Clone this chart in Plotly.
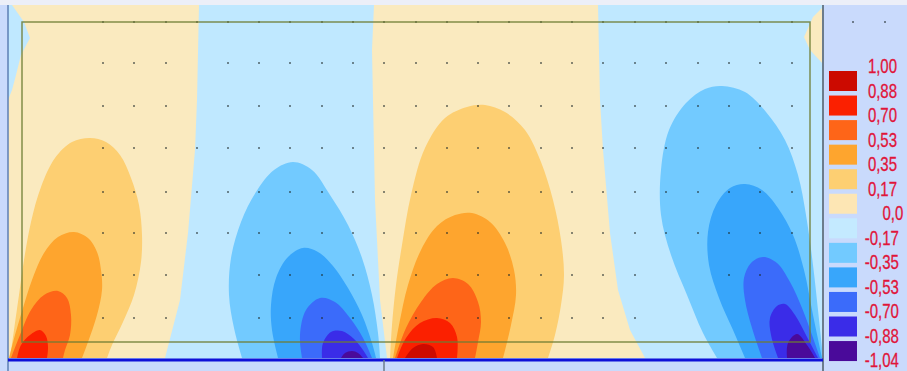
import plotly.graph_objects as go

# Scale legend
level_labels = ["1,00", "0,88", "0,70", "0,53", "0,35", "0,17", "0,0", "-0,17", "-0,35", "-0,53", "-0,70", "-0,88", "-1,04"]
band_colors = ["#cc0a00", "#fb2000", "#fe6518", "#fea52e", "#fdcf72", "#fde6b4",
               "#c4eaff", "#72caff", "#38a6fb", "#3b6bfa", "#3a2ce8", "#4a0a9a"]
C = dict(zip(["p88", "p70", "p53", "p35", "p17", "p0", "n0", "n17", "n35", "n53", "n70", "n88"], band_colors))
C["p0"] = "#faeabf"
C["n0"] = "#bfe8ff"

# Zero isolines (positive cream zones)
zero_a_x = [12, 199, 197, 195, 188, 180, 165, 8, 8, 12, 16, 21, 30, 24, 12]
zero_a_y = [5, 5, 100, 150, 233, 300, 358, 358, 100, 90, 75, 55, 38, 22, 5]
zero_b_x = [374, 598, 600, 603, 610, 618, 630, 645, 387, 380, 375, 373, 372, 374]
zero_b_y = [5, 5, 100, 150, 233, 290, 330, 358, 358, 300, 200, 100, 50, 5]
zero_c_x = [823, 813, 804, 810, 823]
zero_c_y = [7, 17, 37, 50, 64]

# Left positive lobe
l17_x = [10, 14, 19, 24, 31, 41, 55, 72, 90, 106, 120, 131, 139, 142, 141, 134, 123, 112, 107]
l17_y = [358, 330, 295, 260, 222, 187, 158, 142, 138, 142, 155, 178, 205, 235, 262, 295, 322, 345, 358]
l35_x = [9, 15, 23, 32, 44, 58, 74, 88, 97, 101, 102, 97, 88, 82]
l35_y = [358, 335, 308, 280, 253, 237, 232, 238, 252, 270, 290, 315, 342, 358]
l53_x = [11, 20, 31, 44, 58, 67, 71, 70, 65, 63]
l53_y = [358, 335, 310, 295, 291, 298, 315, 335, 350, 358]
l70_x = [17, 21, 30, 40, 46, 48, 47]
l70_y = [358, 345, 335, 330, 336, 347, 358]

# First negative lobe
b17_x = [242, 234, 229, 231, 241, 256, 274, 293, 312, 330, 348, 362, 372, 378, 380]
b17_y = [358, 328, 295, 258, 222, 192, 170, 162, 170, 195, 225, 258, 295, 333, 358]
b35_x = [278, 272, 271, 276, 288, 303, 318, 333, 348, 362, 372, 376]
b35_y = [358, 330, 305, 278, 257, 248, 252, 266, 288, 315, 343, 358]
b53_x = [302, 300, 306, 320, 335, 350, 363, 372]
b53_y = [358, 335, 310, 298, 302, 318, 338, 358]
b70_x = [322, 323, 331, 342, 354, 363, 368]
b70_y = [358, 343, 332, 331, 339, 350, 358]
b88_x = [341, 345, 352, 358, 363]
b88_y = [358, 353, 351, 353, 358]

# Centre positive lobe
c17_x = [390, 392, 396, 402, 411, 425, 445, 467, 485, 505, 525, 541, 553, 561, 564, 561, 555, 548]
c17_y = [358, 325, 285, 245, 195, 148, 118, 107, 105, 112, 130, 162, 200, 240, 275, 305, 335, 358]
c35_x = [393, 399, 408, 421, 437, 455, 472, 490, 505, 514, 516, 511, 503]
c35_y = [358, 325, 285, 250, 226, 215, 213, 222, 243, 270, 295, 325, 358]
c53_x = [395, 406, 421, 437, 453, 468, 478, 481, 478, 475]
c53_y = [358, 328, 302, 284, 278, 284, 302, 322, 342, 358]
c70_x = [397, 406, 420, 437, 450, 457, 457]
c70_y = [358, 338, 323, 318, 323, 337, 358]
c88_x = [405, 413, 423, 433, 437]
c88_y = [358, 348, 344, 347, 358]

# Right negative lobe
r17_x = [717, 703, 687, 671, 661, 661, 669, 686, 705, 722, 745, 766, 785, 798, 806, 813, 818, 823]
r17_y = [358, 333, 295, 255, 215, 170, 130, 103, 89, 86, 92, 112, 140, 175, 215, 265, 310, 358]
r35_x = [745, 733, 719, 709, 708, 716, 730, 745, 762, 778, 793, 804, 813, 822]
r35_y = [358, 330, 298, 265, 232, 205, 188, 184, 190, 208, 235, 270, 315, 358]
r53_x = [762, 752, 745, 744, 751, 763, 777, 790, 802, 812, 820]
r53_y = [358, 328, 300, 278, 263, 257, 263, 282, 308, 335, 358]
r70_x = [778, 771, 770, 777, 785, 795, 807, 818]
r70_y = [358, 335, 318, 306, 304, 315, 337, 358]
r88_x = [787, 788, 797, 807, 815]
r88_y = [358, 343, 334, 345, 358]

# Mesh sample points
mesh_x = [103, 134, 166, 197, 228, 259, 290, 322, 353, 384, 416, 447, 478, 509, 541, 572, 603, 635, 666, 698, 729, 760, 792]
mesh_y = [22, 63, 106, 148, 192, 233, 275, 318]
mesh_skip = [(197, 63), (197, 106), (197, 275), (228, 275), (197, 318), (228, 318),
             (666, 275), (698, 275), (792, 275), (666, 318), (698, 318), (729, 318), (760, 318), (792, 318)]
extra_x = [853, 885]
extra_y = [22, 22]

BG = "#c9dafc"
fig = go.Figure()


def lobe(xs, ys, key):
    fig.add_trace(go.Scatter(x=xs, y=ys, mode="lines", fill="toself", fillcolor=C[key],
                             line=dict(width=0, shape="spline", smoothing=1.0, color=C[key]),
                             hoverinfo="skip", showlegend=False))


def flat(xs, ys, key):
    fig.add_trace(go.Scatter(x=xs, y=ys, mode="lines", fill="toself", fillcolor=C[key],
                             line=dict(width=0, color=C[key]), hoverinfo="skip", showlegend=False))


# Negative base field
fig.add_trace(go.Scatter(x=[8, 823, 823, 8, 8], y=[5, 5, 359, 359, 5], mode="lines", fill="toself",
                         fillcolor=C["n0"], line=dict(width=0), hoverinfo="skip", showlegend=False))
flat(zero_a_x, zero_a_y, "p0")
flat(zero_b_x, zero_b_y, "p0")
flat(zero_c_x, zero_c_y, "p0")

for xs, ys, key in [
    (l17_x, l17_y, "p17"), (l35_x, l35_y, "p35"), (l53_x, l53_y, "p53"), (l70_x, l70_y, "p70"),
    (b17_x, b17_y, "n17"), (b35_x, b35_y, "n35"), (b53_x, b53_y, "n53"), (b70_x, b70_y, "n70"), (b88_x, b88_y, "n88"),
    (c17_x, c17_y, "p17"), (c35_x, c35_y, "p35"), (c53_x, c53_y, "p53"), (c70_x, c70_y, "p70"), (c88_x, c88_y, "p88"),
    (r17_x, r17_y, "n17"), (r35_x, r35_y, "n35"), (r53_x, r53_y, "n53"), (r70_x, r70_y, "n70"), (r88_x, r88_y, "n88"),
]:
    lobe(xs, ys, key)

# Mesh dots
dots = [(x, y) for y in mesh_y for x in mesh_x if (x, y) not in mesh_skip]
fig.add_trace(go.Scatter(x=[d[0] for d in dots] + extra_x, y=[d[1] for d in dots] + extra_y, mode="markers",
                         marker=dict(size=2, color="rgba(30,40,40,0.7)"), hoverinfo="skip", showlegend=False))

# Scale swatches
first, pitch = 81, 24.55
fig.add_trace(go.Bar(y=[first + i * pitch for i in range(len(band_colors))], x=[28] * len(band_colors),
                     base=829, orientation="h", width=20, marker=dict(color=band_colors, line=dict(width=0)),
                     hoverinfo="skip", showlegend=False))

# Outlines
shapes = [
    dict(type="rect", x0=0, x1=907, y0=0, y1=5, fillcolor="#eceff8", line=dict(width=0)),
    dict(type="rect", x0=22, x1=810, y0=22, y1=342, line=dict(color="rgba(110,125,50,0.85)", width=1.5)),
    dict(type="line", x0=8, x1=8, y0=5, y1=371, line=dict(color="#5d7fb5", width=1.5)),
    dict(type="line", x0=823, x1=823, y0=5, y1=371, line=dict(color="#6c7c8c", width=2)),
    dict(type="line", x0=8, x1=823, y0=360, y1=360, line=dict(color="#1010d8", width=3)),
    dict(type="line", x0=384, x1=384, y0=360, y1=371, line=dict(color="#6c7c8c", width=1.5)),
]

# Scale labels
centres = {"0,0": 893}
annotations = []
for i, lab in enumerate(level_labels):
    centre = centres.get(lab, 882)
    annotations.append(dict(x=centre, y=66 + i * 24.5, text=lab, showarrow=False, xanchor="center", yanchor="middle",
                            xref="x", yref="y",
                            font=dict(family="Liberation Sans", size=20, color="#e0153a")))

fig.update_layout(
    width=907, height=371, margin=dict(l=0, r=0, t=0, b=0), paper_bgcolor=BG, plot_bgcolor=BG,
    showlegend=False, shapes=shapes, annotations=annotations, barmode="overlay",
    xaxis=dict(range=[0, 907], visible=False, fixedrange=True),
    yaxis=dict(range=[371, 0], visible=False, fixedrange=True),
)
squeeze = """
document.body.style.margin='0';document.body.style.overflow='hidden';
document.querySelectorAll('.annotation-text').forEach(function(t){
  var cx=parseFloat(t.getAttribute('x'))||0;
  t.setAttribute('transform','translate('+cx+',0) scale(0.75,1) translate('+(-cx)+',0)');
  t.style.stroke='#e0153a';t.style.strokeWidth='0.3px';
});
"""
fig.write_html("out.html", config={"displayModeBar": False}, post_script=squeeze)
